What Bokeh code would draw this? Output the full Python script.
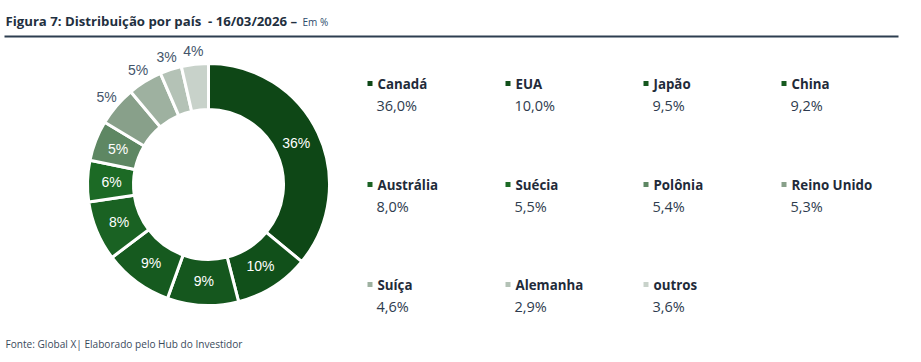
import math
from bokeh.plotting import figure
from bokeh.models import Range1d, ColumnDataSource
from bokeh.embed import file_html
from bokeh.resources import INLINE
from bokeh.core.properties import value

# ---- data ----
countries = ["Canadá", "EUA", "Japão", "China", "Austrália", "Suécia",
             "Polônia", "Reino Unido", "Suíça", "Alemanha", "outros"]
shares = [36.0, 10.0, 9.5, 9.2, 8.0, 5.5, 5.4, 5.3, 4.6, 2.9, 3.6]
slice_labels = ["36%", "10%", "9%", "9%", "8%", "6%", "5%", "5%", "5%", "3%", "4%"]
colors = ["#0E4716", "#11501A", "#15571E", "#165A1F", "#1A6223", "#1C6A25",
          "#5E8763", "#88A08A", "#9EB1A0", "#B4C2B6", "#C8D2CA"]

title_text = "Figura 7: Distribuição por país \u00a0- 16/03/2026 –"
unit_text = "Em %"
source_text = "Fonte: Global X| Elaborado pelo Hub do Investidor"

# ---- layout ----
W, H = 913, 354


def X(px):
    return px


def Y(py):
    return H - py


p = figure(width=W, height=H, output_backend="svg", toolbar_location=None,
           x_range=Range1d(0, W), y_range=Range1d(0, H),
           x_axis_location=None, y_axis_location=None,
           min_border=0, min_border_left=0, min_border_right=0,
           min_border_top=0, min_border_bottom=0)
p.grid.visible = False
p.outline_line_color = None
p.background_fill_color = "white"

# donut
cx, cy = X(208), Y(184)
r_out, r_in = 121, 75
total = sum(shares)
starts, ends, mids = [], [], []
cum = 0.0
for v in shares:
    a0 = math.pi / 2 - 2 * math.pi * cum / total
    cum += v
    a1 = math.pi / 2 - 2 * math.pi * cum / total
    starts.append(a0)
    ends.append(a1)
    mids.append((a0 + a1) / 2)

src = ColumnDataSource(dict(start=starts, end=ends, color=colors))
p.annular_wedge(x=cx, y=cy, inner_radius=r_in, outer_radius=r_out,
                start_angle="start", end_angle="end", direction="clock",
                fill_color="color", line_color="white", line_width=3, source=src)

inside = dict(x=[], y=[], t=[])
outside = dict(x=[], y=[], t=[])
for i, (m, lab) in enumerate(zip(mids, slice_labels)):
    if i < 7:
        r = 97
        d = inside
    else:
        r = 134
        d = outside
    d["x"].append(cx + r * math.cos(m))
    d["y"].append(cy + r * math.sin(m))
    d["t"].append(lab)

p.text(x="x", y="y", text="t", source=ColumnDataSource(inside),
       text_color="white", text_font=value("Liberation Sans"),
       text_font_size="14px", text_align="center", text_baseline="middle")
p.text(x="x", y="y", text="t", source=ColumnDataSource(outside),
       text_color="#44546A", text_font=value("Liberation Sans"),
       text_font_size="14px", text_align="center", text_baseline="middle")

# legend grid
col_x = [367, 505, 643, 781]
row_y = [83, 184, 284]
lx, ly, vx, vy, mk_x, mk_y, names, vals = [], [], [], [], [], [], [], []
for i, (c, v) in enumerate(zip(countries, shares)):
    cxp = col_x[i % 4]
    ryp = row_y[i // 4]
    mk_x.append(X(cxp + 2.5))
    mk_y.append(Y(ryp))
    lx.append(X(cxp + 10))
    ly.append(Y(ryp))
    vx.append(X(cxp + 9))
    vy.append(Y(ryp + 22))
    names.append(c)
    vals.append(f"{v:.1f}".replace(".", ",") + "%")

p.rect(x=mk_x, y=mk_y, width=5, height=5, fill_color=colors, line_color=None)
p.text(x=lx, y=ly, text=names, text_color="#1F2B3A",
       text_font=value("Open Sans"), text_font_style="bold",
       text_font_size="13.3px", text_baseline="middle")
p.text(x=vx, y=vy, text=vals, text_color="#2E3B4E",
       text_font=value("Open Sans"), text_font_size="14.5px",
       text_baseline="middle")

# title, rule and source
p.text(x=[X(5)], y=[Y(20)], text=[title_text], text_color="#1F3040",
       text_font=value("Open Sans"), text_font_style="bold",
       text_font_size="13.2px", text_baseline="middle")
p.text(x=[X(302)], y=[Y(21)], text=[unit_text], text_color="#2B4A6B",
       text_font=value("Open Sans"), text_font_size="10px",
       text_baseline="middle")
p.segment(x0=[X(4)], y0=[Y(36)], x1=[X(898)], y1=[Y(36)],
          line_color="#2D3E50", line_width=2)
p.text(x=[X(5)], y=[Y(343)], text=[source_text], text_color="#3A4A5C",
       text_font=value("Open Sans"), text_font_size="10.1px",
       text_baseline="middle")

open("out.html", "w").write(file_html(p, INLINE))
